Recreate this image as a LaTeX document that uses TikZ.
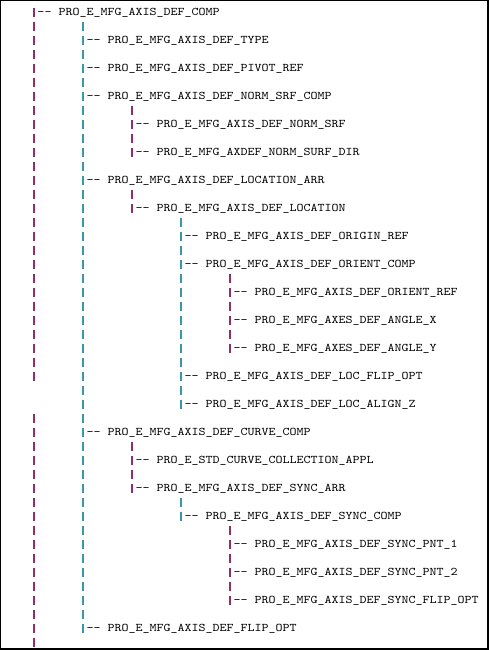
\documentclass[tikz,border=0pt]{standalone}
\usepackage{fontspec}
\newfontfamily\treefont[FakeStretch=1.1429]{lmmono10-regular.otf}
\definecolor{pipepurple}{RGB}{145,45,105}
\definecolor{pipeteal}{RGB}{60,150,165}
\tikzset{
  item/.style={anchor=base west, inner sep=0pt, outer sep=0pt,
    font=\treefont\fontsize{8.75pt}{10.5pt}\selectfont, text=black},
  pipebase/.style={line width=0.8pt, dash pattern=on 6.3pt off 4.2pt},
  pipeP/.style={pipebase, draw=pipepurple},
  pipeT/.style={pipebase, draw=pipeteal},
  frame/.style={draw=black, line width=0.9pt}
}
\begin{document}
\begin{tikzpicture}[x=0.75pt,y=-0.75pt]
\useasboundingbox (0,0) rectangle (489,650);
\draw[frame] (0.6,0.6) rectangle (487.9,648.9);
% line L center = 12.5 + 14 L ; baseline = center + 2.8
% columns: 34, 83, 132, 181, 230 ; text starts at col + 3.5
\newcommand{\treeitem}[4]{% name, col x, line, text
  \node[item] (#1) at ({#2+3.5},{12.5+14*#3+2.8}) {-{}- #4};}
\treeitem{comp}{34}{0}{PRO\_E\_MFG\_AXIS\_DEF\_COMP}
\treeitem{type}{83}{2}{PRO\_E\_MFG\_AXIS\_DEF\_TYPE}
\treeitem{pivot}{83}{4}{PRO\_E\_MFG\_AXIS\_DEF\_PIVOT\_REF}
\treeitem{normcomp}{83}{6}{PRO\_E\_MFG\_AXIS\_DEF\_NORM\_SRF\_COMP}
\treeitem{normsrf}{132}{8}{PRO\_E\_MFG\_AXIS\_DEF\_NORM\_SRF}
\treeitem{normdir}{132}{10}{PRO\_E\_MFG\_AXDEF\_NORM\_SURF\_DIR}
\treeitem{locarr}{83}{12}{PRO\_E\_MFG\_AXIS\_DEF\_LOCATION\_ARR}
\treeitem{loc}{132}{14}{PRO\_E\_MFG\_AXIS\_DEF\_LOCATION}
\treeitem{origin}{181}{16}{PRO\_E\_MFG\_AXIS\_DEF\_ORIGIN\_REF}
\treeitem{orientcomp}{181}{18}{PRO\_E\_MFG\_AXIS\_DEF\_ORIENT\_COMP}
\treeitem{orientref}{230}{20}{PRO\_E\_MFG\_AXIS\_DEF\_ORIENT\_REF}
\treeitem{anglex}{230}{22}{PRO\_E\_MFG\_AXES\_DEF\_ANGLE\_X}
\treeitem{angley}{230}{24}{PRO\_E\_MFG\_AXES\_DEF\_ANGLE\_Y}
\treeitem{locflip}{181}{26}{PRO\_E\_MFG\_AXIS\_DEF\_LOC\_FLIP\_OPT}
\treeitem{localign}{181}{28}{PRO\_E\_MFG\_AXIS\_DEF\_LOC\_ALIGN\_Z}
\treeitem{curvecomp}{83}{30}{PRO\_E\_MFG\_AXIS\_DEF\_CURVE\_COMP}
\treeitem{stdcurve}{132}{32}{PRO\_E\_STD\_CURVE\_COLLECTION\_APPL}
\treeitem{syncarr}{132}{34}{PRO\_E\_MFG\_AXIS\_DEF\_SYNC\_ARR}
\treeitem{synccomp}{181}{36}{PRO\_E\_MFG\_AXIS\_DEF\_SYNC\_COMP}
\treeitem{pnta}{230}{38}{PRO\_E\_MFG\_AXIS\_DEF\_SYNC\_PNT\_1}
\treeitem{pntb}{230}{40}{PRO\_E\_MFG\_AXIS\_DEF\_SYNC\_PNT\_2}
\treeitem{syncflip}{230}{42}{PRO\_E\_MFG\_AXIS\_DEF\_SYNC\_FLIP\_OPT}
\treeitem{flip}{83}{44}{PRO\_E\_MFG\_AXIS\_DEF\_FLIP\_OPT}
% pipe segments: from line a to line b in column x
\newcommand{\pipeseg}[5]{% name, style, x, line a, line b
  \coordinate (#1a) at (#3,{12.5+14*#4-4.2});
  \coordinate (#1b) at (#3,{12.5+14*#5+4.2});
  \draw[#2] (#1a) -- (#1b);}
\pipeseg{c0s1}{pipeP}{34}{0}{26}
\pipeseg{c0s2}{pipeP}{34}{29}{45}
\pipeseg{c1s1}{pipeT}{83}{1}{44}
\pipeseg{c2s1}{pipeP}{132}{7}{10}
\pipeseg{c2s2}{pipeP}{132}{13}{14}
\pipeseg{c2s3}{pipeP}{132}{31}{34}
\pipeseg{c3s1}{pipeT}{181}{15}{28}
\pipeseg{c3s2}{pipeT}{181}{35}{36}
\pipeseg{c4s1}{pipeP}{230}{19}{24}
\pipeseg{c4s2}{pipeP}{230}{37}{42}
\end{tikzpicture}
\end{document}
